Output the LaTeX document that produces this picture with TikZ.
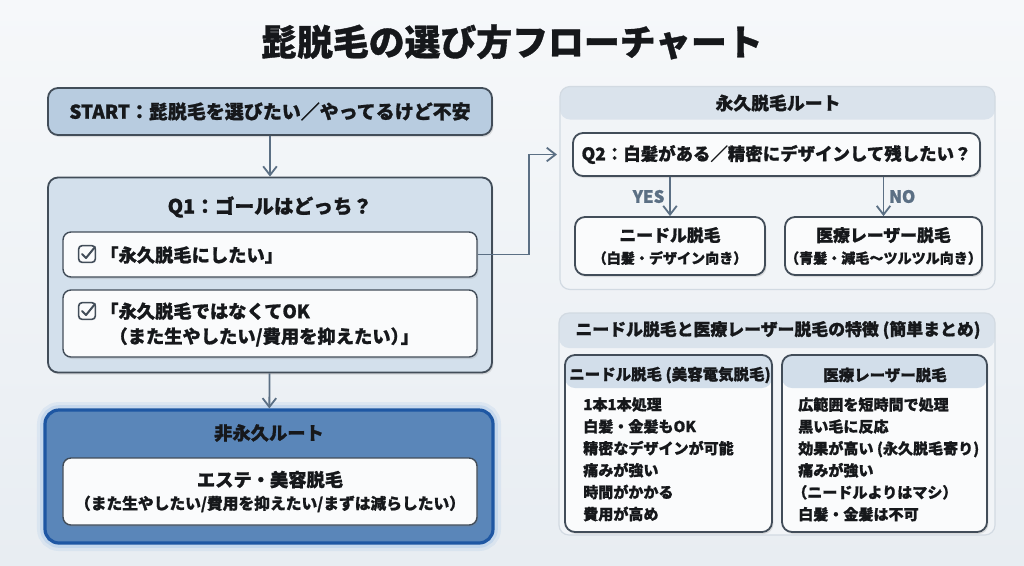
\documentclass[tikz,border=0pt]{standalone}
\usepackage{fontspec}
\setmainfont{Noto Sans CJK JP}[BoldFeatures={FakeBold=1}]
\usetikzlibrary{arrows.meta,shadows}
\definecolor{bgtop}{HTML}{F6F8FA}
\definecolor{bgbot}{HTML}{E8EDF2}
\definecolor{ink}{HTML}{16181B}
\definecolor{edge}{HTML}{424D59}
\definecolor{arrowc}{HTML}{5B6F84}
\definecolor{startc}{HTML}{B8CCE0}
\definecolor{qonec}{HTML}{D3E0EC}
\definecolor{optc}{HTML}{FAFBFC}
\definecolor{npc}{HTML}{5A86B9}
\definecolor{npedge}{HTML}{1E57A3}
\definecolor{npglow}{HTML}{6FA4E0}
\definecolor{panelc}{HTML}{F1F4F7}
\definecolor{panelhead}{HTML}{DAE3EC}
\definecolor{paneledge}{HTML}{D2DAE2}
\definecolor{subhead}{HTML}{D2DEEA}
\begin{document}
\begin{tikzpicture}[x=0.25mm,y=-0.25mm,
    box/.style={draw=edge, line width=0.45mm, rounded corners=2.5mm, inner sep=0pt,
        drop shadow={shadow xshift=0.35mm, shadow yshift=-0.5mm, opacity=0.22}},
    startbox/.style={box, fill=startc, text=ink, font=\bfseries\fontsize{13.5}{17}\selectfont},
    qonebox/.style={box, fill=qonec},
    optbox/.style={box, fill=optc, line width=0.35mm, rounded corners=2mm},
    npbox/.style={draw=npedge, line width=0.8mm, fill=npc, rounded corners=3.5mm, inner sep=0pt,
        preaction={draw=npglow, line width=4mm, opacity=0.12},
        preaction={draw=npglow, line width=2.4mm, opacity=0.2}},
    panel/.style={draw=paneledge, line width=0.3mm, fill=panelc, rounded corners=2.5mm, inner sep=0pt,
        path picture={\fill[panelhead] (path picture bounding box.north west) rectangle ([yshift=-#1]path picture bounding box.north east);}},
    subbox/.style={box, fill=optc,
        path picture={\fill[subhead] (path picture bounding box.north west) rectangle ([yshift=-8.25mm]path picture bounding box.north east);}},
    routebox/.style={box, fill=optc, text=ink, align=center, font=\bfseries\fontsize{12}{15.6}\selectfont},
    ttl/.style={font=\bfseries\fontsize{25.5}{30}\selectfont, text=ink},
    hd/.style={font=\bfseries\fontsize{14}{17}\selectfont, text=ink},
    opttext/.style={font=\bfseries\fontsize{13}{17.8}\selectfont, text=ink, inner sep=0pt, anchor=west, align=left},
    lst/.style={font=\bfseries\fontsize{10.7}{15.6}\selectfont, text=ink, align=left, anchor=north west, inner sep=0pt},
    yn/.style={font=\bfseries\fontsize{12}{14}\selectfont, text=arrowc},
    arr/.style={draw=arrowc, line width=0.45mm, -{Straight Barb[length=2.2mm, width=3.4mm]}},
    chkbox/.style={draw=edge, line width=0.4mm, rounded corners=0.9mm, minimum size=4.2mm, inner sep=0pt},
    chkmark/.style={draw=edge, line width=0.5mm, line cap=round, line join=round}]
    \shade[top color=bgtop, bottom color=bgbot] (0,0) rectangle (1024,565);
    \useasboundingbox (0,0) rectangle (1024,565);
    \node[ttl] (title) at (512,42) {髭脱毛の選び方フローチャート};
    \node[startbox, minimum width=111mm, minimum height=11.75mm] (start) at (270,111.5) {START：髭脱毛を選びたい／やってるけど不安};
    \node[qonebox, minimum width=111mm, minimum height=48.75mm] (q1) at (270,275) {};
    \node[hd] (q1t) at (270,207) {Q1：ゴールはどっち？};
    \node[optbox, minimum width=103.5mm, minimum height=11.25mm] (opt1) at (270,254.5) {};
    \node[optbox, minimum width=103.5mm, minimum height=16.75mm] (opt2) at (270,323.5) {};
    \node[chkbox] (chk1) at (87,254) {};
    \node[chkbox] (chk2) at (87,311) {};
    \draw[chkmark] ([shift={(-5,0)}]chk1.center) -- ([shift={(-1,4)}]chk1.center) -- ([shift={(8,-7)}]chk1.center);
    \draw[chkmark] ([shift={(-5,0)}]chk2.center) -- ([shift={(-1,4)}]chk2.center) -- ([shift={(8,-7)}]chk2.center);
    \node[opttext] (opt1t) at (100,255) {「永久脱毛にしたい」};
    \node[opttext] (opt2t) at (100,324.5) {「永久脱毛ではなくてOK\\\hspace{0.5em}（また生やしたい/費用を抑えたい）\kern-0.45em」};
    \node[npbox, minimum width=112mm, minimum height=33.25mm] (np) at (269,476.5) {};
    \node[hd, font=\bfseries\fontsize{13}{16}\selectfont] (npt) at (269,433) {非永久ルート};
    \node[optbox, minimum width=103.5mm, minimum height=16.75mm, text=ink, align=center,
        font=\bfseries\fontsize{11.2}{16.2}\selectfont] (esthe) at (270,491.5)
        {{\fontsize{13}{16.2}\selectfont エステ・美容脱毛}\\（また生やしたい/費用を抑えたい/まずは減らしたい）};
    \draw[arr] (start) -- (q1);
    \draw[arr] (q1) -- (np);
    \node[panel=8.25mm, minimum width=108.75mm, minimum height=50.75mm] (perm) at (777.5,188) {};
    \node[hd, font=\bfseries\fontsize{12.7}{15}\selectfont] (permt) at (778,103) {永久脱毛ルート};
    \node[routebox, font=\bfseries\fontsize{12.4}{15}\selectfont, minimum width=101.75mm, minimum height=10.75mm] (q2) at (776.5,154.5) {Q2：白髪がある／精密にデザインして残したい？};
    \node[routebox, minimum width=47.5mm, minimum height=14.5mm] (needle) at (670,246) {ニードル脱毛\\{\fontsize{10}{15.6}\selectfont （白髪・デザイン向き）}};
    \node[routebox, minimum width=49.25mm, minimum height=14.5mm] (laser) at (883.5,246) {医療レーザー脱毛\\{\fontsize{10}{15.6}\selectfont （青髪・減毛～ツルツル向き）}};
    \draw[arr] (needle.north |- q2.south) -- (needle.north) node[yn, midway, left] {YES};
    \draw[arr] (laser.north |- q2.south) -- (laser.north) node[yn, midway, right] {NO};
    \draw[arr] (opt1.east) -- ++(51,0) |- ([xshift=-0.6mm]perm.west |- q2.west);
    \node[panel=8.75mm, minimum width=109mm, minimum height=55.5mm] (summ) at (777,424) {};
    \node[hd, font=\bfseries\fontsize{12}{15}\selectfont] (summt) at (778,330) {ニードル脱毛と医療レーザー脱毛の特徴 (簡単まとめ)};
    \node[subbox, minimum width=51.75mm, minimum height=44.25mm] (needlesub) at (668.5,443.5) {};
    \node[subbox, minimum width=51.25mm, minimum height=44.25mm] (lasersub) at (884.5,443.5) {};
    \node[hd, font=\bfseries\fontsize{11}{14}\selectfont] (needlesubt) at (670,375) {ニードル脱毛 (美容電気脱毛)};
    \node[hd, font=\bfseries\fontsize{11}{14}\selectfont] (lasersubt) at (885,375) {医療レーザー脱毛};
    \node[lst] (needlelist) at (583,397) {1本1本処理\\白髪・金髪もOK\\精密なデザインが可能\\痛みが強い\\時間がかかる\\費用が高め};
    \node[lst] (laserlist) at (798,397) {広範囲を短時間で処理\\黒い毛に反応\\効果が高い (永久脱毛寄り)\\痛みが強い\\\kern-0.4em（ニードルよりはマシ）\\白髪・金髪は不可};
\end{tikzpicture}
\end{document}
